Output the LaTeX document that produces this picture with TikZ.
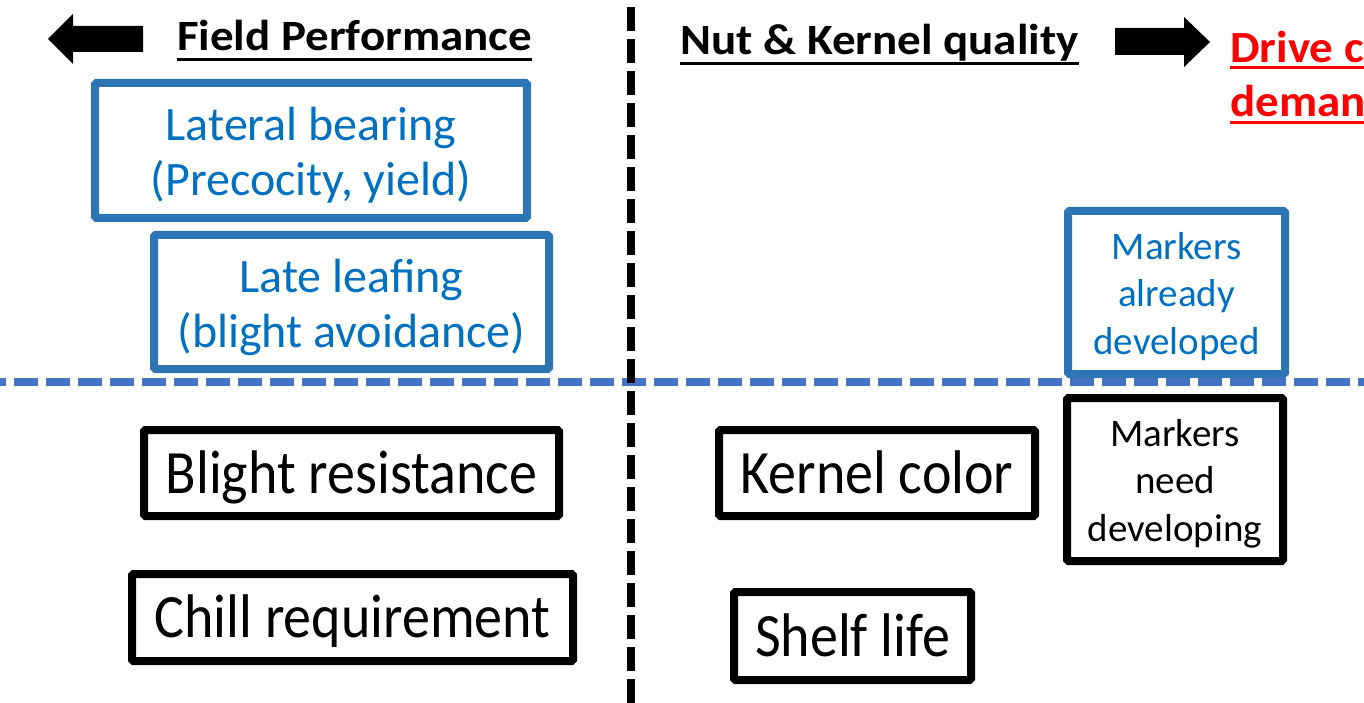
\documentclass[tikz,border=0pt]{standalone}
\usepackage{graphicx}
\usepackage{fontspec}
\setmainfont{Carlito}
\definecolor{boxblue}{HTML}{2E75B6}
\definecolor{txtblue}{HTML}{0070C0}
\definecolor{dashblue}{HTML}{4472C4}
\definecolor{hdrred}{HTML}{FF0000}
\begin{document}
\begin{tikzpicture}[x=1pt,y=-1pt,
  bbox/.style={draw=boxblue, line width=8pt, inner sep=0pt, rounded corners=1.5pt},
  kbox/.style={draw=black, line width=8pt, inner sep=0pt, rounded corners=1.5pt},
  txt/.style={inner sep=0pt, align=center},
  btxt/.style={txt, text=txtblue},
  big/.style={font=\fontsize{56}{66}\selectfont},
  mid/.style={font=\fontsize{48}{55}\selectfont},
  sml/.style={font=\fontsize{39}{47.5}\selectfont},
  hdr/.style={font=\fontsize{47}{54}\selectfont\bfseries, inner sep=0pt, anchor=base west},
  uline/.style={line width=3pt},
  bigarrow/.style={fill=black, draw=none}]
\useasboundingbox (0,0) rectangle (1364,703);
\clip (0,0) rectangle (1364,703);
\coordinate (R) at (1364,0);

% headers
\node[hdr] (fp) at (177,51) {\scalebox{1}[0.92]{Field Performance}};
\draw[uline] ([yshift=-9pt]fp.base west) -- ([yshift=-9pt]fp.base east);
\node[hdr] (nk) at (680,55) {\scalebox{1}[0.92]{Nut \& Kernel quality}};
\draw[uline] ([yshift=-9pt]nk.base west) -- ([yshift=-9pt]nk.base east);
\node[hdr, text=hdrred] (dc) at (1230,63) {\scalebox{1}[0.95]{Drive c}};
\coordinate (dcu) at ([yshift=-5pt]dc.base west);
\draw[uline, hdrred] (dcu) -- (dcu -| R);
\node[hdr, text=hdrred] (dm) at (1230,117) {\scalebox{1}[0.95]{deman}};
\coordinate (dmu) at ([yshift=-6pt]dm.base west);
\draw[uline, hdrred] (dmu) -- (dmu -| R);

% block arrows
\fill[bigarrow] (48,39) -- (73,14) -- (73,26) -- (143,26) -- (143,52) -- (73,52) -- (73,64) -- cycle;
\fill[bigarrow] (1210,42) -- (1184,17) -- (1184,28) -- (1115,28) -- (1115,55) -- (1184,55) -- (1184,67) -- cycle;

% boxes (frames)
\node[bbox, minimum width=432pt, minimum height=135pt] (lat) at (311,150.5) {};
\node[bbox, minimum width=395pt, minimum height=134pt] (late) at (351.5,302) {};
\node[bbox, minimum width=217pt, minimum height=163pt] (mad) at (1176.5,292.5) {};
\node[kbox, minimum width=216pt, minimum height=163pt] (mnd) at (1175,479.5) {};
\node[kbox, minimum width=415pt, minimum height=86pt] (blr) at (351.5,473) {};
\node[kbox, minimum width=441pt, minimum height=87pt] (chr) at (352.5,617.5) {};
\node[kbox, minimum width=316pt, minimum height=86pt] (kc) at (877,473) {};
\node[kbox, minimum width=237pt, minimum height=88pt] (sl) at (852.5,636) {};

% box texts
\node[btxt, mid] (latT) at ([yshift=-5pt]lat.center) {Lateral bearing\\(Precocity, yield)};
\node[btxt, mid] (lateT) at ([yshift=-5pt]late.center) {Late leafing\\(blight avoidance)};
\node[btxt, sml] (madT) at ([yshift=-4pt]mad.center) {Markers\\already\\developed};
\node[txt, sml] (mndT) at ([yshift=-4pt]mnd.center) {Markers\\need\\developing};
\node[txt, big, anchor=base] (blrT) at ([yshift=-20pt]blr.center) {\scalebox{1}[1.1]{Blight resistance}};
\node[txt, big, anchor=base] (chrT) at ([yshift=-20pt]chr.center) {\scalebox{1}[1.1]{Chill requirement}};
\node[txt, big, anchor=base] (kcT) at ([yshift=-20pt]kc.center) {\scalebox{1}[1.1]{Kernel color}};
\node[txt, big, anchor=base] (slT) at ([yshift=-20pt]sl.center) {\scalebox{1}[1.1]{Shelf life}};

% dividers
\coordinate (hl) at (0,381.5);
\coordinate (hr) at (1364,381.5);
\draw[dashblue, line width=8pt, dash pattern=on 24pt off 8pt, dash phase=18pt] (hl) -- (hr);
\coordinate (vt) at (631,0);
\coordinate (vb) at (631,703);
\draw[black, line width=8pt, dash pattern=on 24pt off 8pt, dash phase=25pt] (vt) -- (vb);
\end{tikzpicture}
\end{document}
